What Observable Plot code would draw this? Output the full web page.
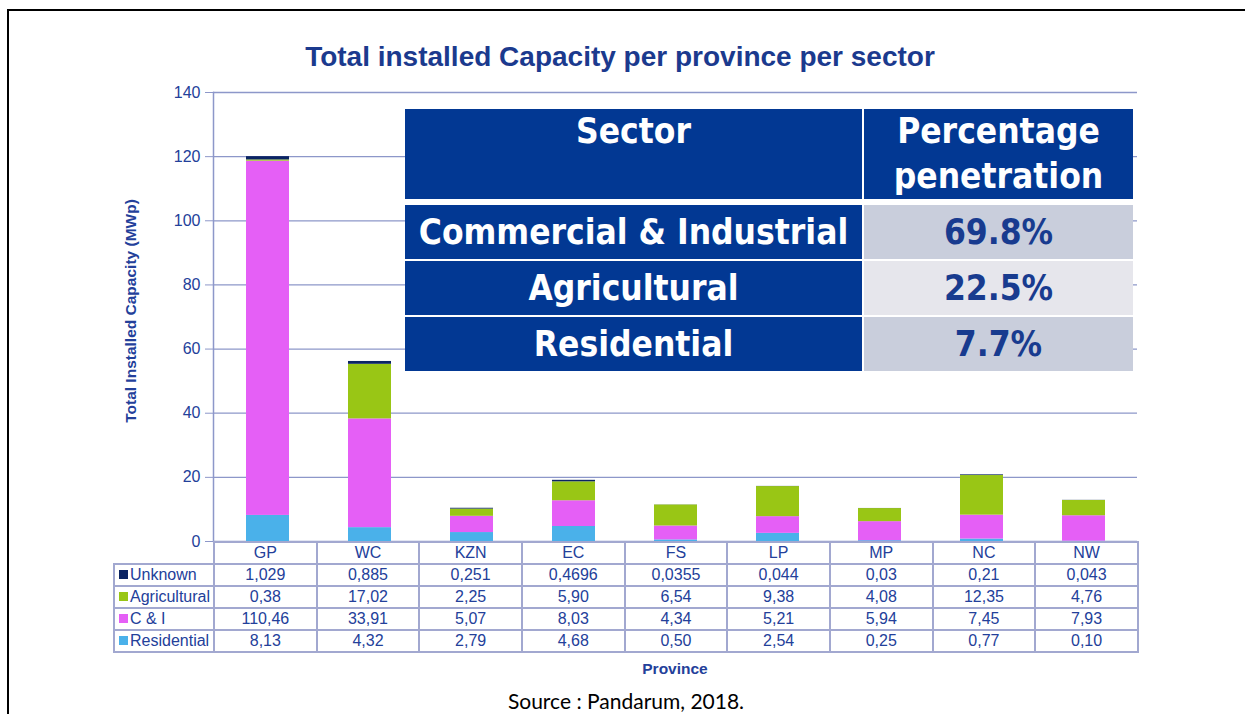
<!DOCTYPE html>
<html>
<head>
<meta charset="utf-8">
<script src="https://cdn.jsdelivr.net/npm/d3@7"></script>
<script src="https://cdn.jsdelivr.net/npm/@observablehq/plot@0.6"></script>
<style>
  html, body { margin: 0; padding: 0; background: #fff; }
  #wrap { position: relative; width: 1245px; height: 714px; overflow: hidden; background: #fff; }
  #borderL { position: absolute; left: 7px; top: 9px; width: 2px; height: 720px; background: #000; }
  #borderT { position: absolute; left: 7px; top: 9px; width: 1250px; height: 2px; background: #000; }
  #title { position: absolute; left: 0; width: 1240px; top: 41px; text-align: center;
    font: bold 28px "Liberation Sans", Arial, sans-serif; color: #1b3a8e; }
  #chart { position: absolute; left: 0; top: 0; }
  #ylabel { position: absolute; left: 131px; top: 311px; transform: translate(-50%, -50%) rotate(-90deg);
    white-space: nowrap; font: bold 15.5px "Liberation Sans", Arial, sans-serif; color: #23409a; }
  #xlabel { position: absolute; left: 675px; top: 669px; transform: translate(-50%, -50%);
    font: bold 15.5px "Liberation Sans", Arial, sans-serif; color: #23409a; }
  #caption { position: absolute; left: 626px; top: 701px; transform: translate(-50%, -50%); white-space: nowrap;
    font: 21px/22px Lato, "Open Sans", sans-serif; color: #000; }
  table.dt { position: absolute; left: 113px; top: 541px; border-collapse: collapse; table-layout: fixed;
    font: 16px "Liberation Sans", Arial, sans-serif; color: #23409a; }
  table.dt td { border: 2px solid #a2a8d0; height: 20px; padding: 0; text-align: center; white-space: nowrap; line-height: 18px; }
  table.dt td.leg { text-align: left; padding-left: 4px; }
  table.dt td.blank { border-top: none; border-left: none; }
  .sw { display: inline-block; width: 9px; height: 9px; margin-right: 2px; vertical-align: 1px; }
  table.ov { position: absolute; left: 405px; top: 109px; border-collapse: separate; border-spacing: 0;
    font-family: "Liberation Sans Narrow", "Arial Narrow", "DejaVu Sans Condensed", sans-serif; font-weight: bold; }
  table.ov td { padding: 0; text-align: center; }
  table.ov td.h { background: #023893; color: #fff; font-size: 35px; line-height: 45px; vertical-align: top; height: 88px; }
  table.ov td.s { background: #023893; color: #fff; font-size: 35px; height: 54px; border-top: 2px solid #fff; }
  table.ov td.p { color: #183b8f; font-size: 35px; height: 54px; border-top: 2px solid #fff; border-left: 2px solid #fff; }
  table.ov tr.gap td { height: 4px; background: #fff; border: none; }
</style>
</head>
<body>
<div id="wrap">
  <div id="borderL"></div>
  <div id="borderT"></div>
  <div id="chart"></div>
  <div id="title">Total installed Capacity per province per sector</div>
  <div id="ylabel">Total Installed Capacity (MWp)</div>
  <div id="xlabel">Province</div>
  <div id="caption">Source : Pandarum, 2018.</div>
</div>
<script>
// ---- data ----
const provinces = ["GP", "WC", "KZN", "EC", "FS", "LP", "MP", "NC", "NW"];
const sectors = ["Unknown", "Agricultural", "C & I", "Residential"]; // table order (top to bottom)
const unknownLabels      = ["1,029", "0,885", "0,251", "0,4696", "0,0355", "0,044", "0,03", "0,21", "0,043"];
const agriculturalLabels = ["0,38", "17,02", "2,25", "5,90", "6,54", "9,38", "4,08", "12,35", "4,76"];
const ciLabels           = ["110,46", "33,91", "5,07", "8,03", "4,34", "5,21", "5,94", "7,45", "7,93"];
const residentialLabels  = ["8,13", "4,32", "2,79", "4,68", "0,50", "2,54", "0,25", "0,77", "0,10"];
const yTicks = [0, 20, 40, 60, 80, 100, 120, 140];
const penetrationSectors = ["Commercial & Industrial", "Agricultural", "Residential"];
const penetrationValues = ["69.8%", "22.5%", "7.7%"];
const penetrationHeader = ["Sector", "Percentage penetration"];

// ---- styles ----
const sectorColors = {"Residential": "#4ab1ea", "C & I": "#e55ff6", "Agricultural": "#99c615", "Unknown": "#0b2463"};
const penetrationFills = ["#c9cedc", "#e6e6ec", "#c9cedc"];

const labelsBySector = {"Unknown": unknownLabels, "Agricultural": agriculturalLabels, "C & I": ciLabels, "Residential": residentialLabels};
const toNum = s => +s.replace(",", ".");
const stackOrder = ["Residential", "C & I", "Agricultural", "Unknown"];
const rows = [];
for (const s of stackOrder) {
  labelsBySector[s].forEach((lab, i) => rows.push({province: provinces[i], sector: s, value: toNum(lab)}));
}

const gridColor = "#8d97c9";
const textColor = "#23409a";

const plot = Plot.plot({
  width: 1245,
  height: 560,
  marginLeft: 213,
  marginRight: 108,
  marginTop: 92,
  marginBottom: 19,
  style: {fontFamily: "'Liberation Sans', Arial, sans-serif", fontSize: "16px", background: "transparent", overflow: "visible"},
  x: {domain: provinces, paddingInner: 0.58, paddingOuter: 0.29, axis: null},
  y: {domain: [0, 140], ticks: yTicks, axis: null},
  color: {domain: stackOrder, range: stackOrder.map(s => sectorColors[s])},
  marks: [
    Plot.gridY(yTicks, {stroke: gridColor, strokeOpacity: 1, strokeWidth: 1.3}),
    Plot.axisY(yTicks, {tickSize: 8, tickPadding: 5, stroke: gridColor, fill: textColor, fontSize: 16, label: null}),
    Plot.barY(rows, {x: "province", y: "value", fill: "sector", order: stackOrder}),
    Plot.frame({anchor: "left", stroke: gridColor, strokeWidth: 1.5})
  ]
});
document.getElementById("chart").appendChild(plot);

// ---- data table under the chart, aligned to the x scale ----
const xs = plot.scale("x");
const colW = (xs.range[1] - xs.range[0]) / provinces.length;
const legW = xs.range[0] - 113;
let html = '<table class="dt"><colgroup><col style="width:' + legW + 'px">' +
  provinces.map(() => '<col style="width:' + colW + 'px">').join("") + '</colgroup>';
html += '<tr><td class="blank"></td>' + provinces.map(p => '<td>' + p + '</td>').join("") + '</tr>';
for (const s of sectors) {
  html += '<tr><td class="leg"><span class="sw" style="background:' + sectorColors[s] + '"></span>' + s + '</td>' +
    labelsBySector[s].map(v => '<td>' + v + '</td>').join("") + '</tr>';
}
html += '</table>';

// ---- overlay penetration table ----
let ov = '<table class="ov"><colgroup><col style="width:457px"><col style="width:271px"></colgroup>';
ov += '<tr><td class="h">' + penetrationHeader[0] + '</td><td class="h" style="border-left:2px solid #fff">' +
  penetrationHeader[1].replace(" ", "<br>") + '</td></tr>';
ov += '<tr class="gap"><td></td><td></td></tr>';
penetrationSectors.forEach((s, i) => {
  ov += '<tr><td class="s">' + s + '</td><td class="p" style="background:' + penetrationFills[i] + '">' + penetrationValues[i] + '</td></tr>';
});
ov += '</table>';

const wrap = document.getElementById("wrap");
wrap.insertAdjacentHTML("beforeend", html + ov);
</script>
</body>
</html>
